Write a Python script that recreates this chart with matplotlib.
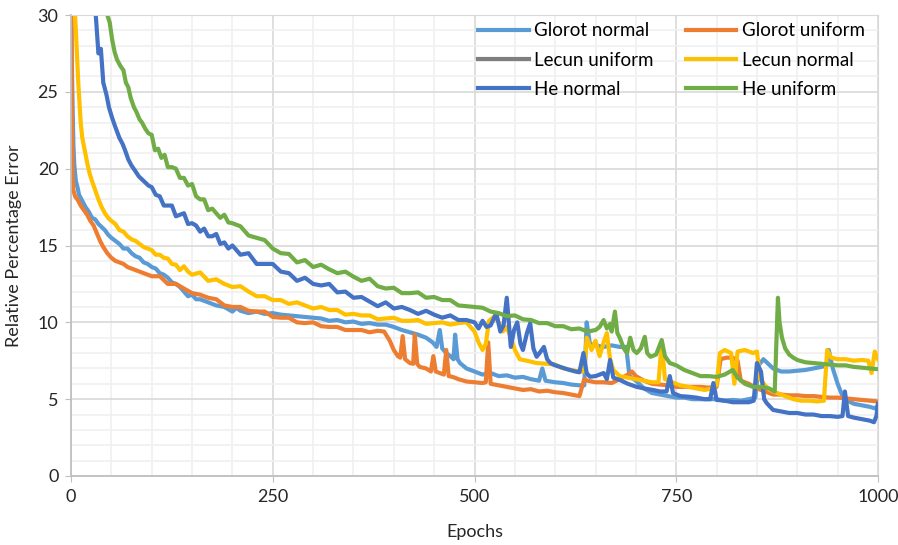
import matplotlib
matplotlib.use("Agg")
import matplotlib.pyplot as plt
from matplotlib.ticker import MultipleLocator

plt.rcParams['font.family'] = ['Lato', 'DejaVu Sans']

# Glorot normal
gn_epochs = [0, 1, 2, 3, 4, 6, 8, 10, 14, 18, 22, 26, 30, 34, 38, 42, 46, 50, 55, 60,
             65, 70, 75, 80, 85, 90, 95, 100, 105, 110, 115, 120, 125, 130, 135, 140, 145, 150, 155, 160,
             170, 180, 190, 200, 205, 210, 220, 230, 240, 250, 260, 270, 280, 290, 300, 310, 320, 330, 340, 350,
             360, 370, 380, 390, 400, 410, 420, 430, 440, 448, 453, 457, 460, 465, 470, 474, 476, 479, 482, 490,
             500, 510, 520, 530, 540, 550, 560, 570, 580, 584, 588, 600, 610, 620, 630, 636, 639, 643, 650, 660,
             670, 680, 688, 692, 700, 710, 720, 730, 740, 750, 760, 770, 780, 790, 800, 810, 820, 830, 840, 848,
             852, 858, 864, 870, 880, 890, 900, 910, 920, 930, 936, 939, 944, 950, 956, 962, 970, 980, 990, 996, 1000]
gn_values = [34, 27, 24, 21.5, 20.3, 19.2, 18.8, 18.3, 17.9, 17.5, 17.2, 16.8, 16.7, 16.4, 16.2, 16.0, 15.7, 15.5, 15.3, 15.1,
             14.8, 14.8, 14.5, 14.3, 14.2, 13.9, 13.8, 13.6, 13.5, 13.2, 13.1, 12.9, 12.6, 12.5, 12.3, 12.0, 11.7, 11.8, 11.5, 11.5,
             11.3, 11.1, 11.0, 10.7, 10.95, 10.75, 10.6, 10.7, 10.55, 10.6, 10.5, 10.45, 10.4, 10.35, 10.3, 10.25, 10.1, 10.15, 10.0, 10.05,
             9.9, 9.95, 9.85, 9.85, 9.7, 9.5, 9.35, 9.2, 9.0, 8.7, 8.4, 9.5, 8.3, 8.0, 7.8, 7.6, 9.2, 7.6, 7.35, 7.0,
             6.8, 6.6, 6.7, 6.5, 6.55, 6.4, 6.45, 6.3, 6.2, 7.0, 6.2, 6.1, 6.05, 5.95, 5.9, 5.9, 10.0, 8.6, 8.5, 8.4,
             8.5, 8.4, 8.4, 6.5, 6.2, 5.7, 5.4, 5.3, 5.2, 5.1, 5.1, 5.0, 5.0, 5.0, 5.0, 4.9, 4.95, 4.9, 5.0, 5.1,
             7.2, 7.6, 7.3, 7.0, 6.8, 6.8, 6.85, 6.9, 7.0, 7.1, 7.2, 8.2, 7.0, 6.0, 5.2, 4.9, 4.7, 4.6, 4.5, 4.4, 4.6]

# Glorot uniform
gu_epochs = [0, 1, 2, 3, 5, 8, 12, 16, 20, 24, 28, 32, 36, 40, 45, 50, 55, 60, 65, 70,
             75, 80, 85, 90, 95, 100, 110, 120, 130, 140, 150, 160, 170, 180, 190, 200, 210, 220, 230, 240,
             250, 260, 270, 280, 290, 300, 310, 320, 330, 340, 350, 360, 370, 380, 388, 395, 400, 405, 408, 411,
             414, 420, 424, 426, 429, 432, 440, 446, 449, 452, 457, 462, 465, 468, 473, 480, 490, 500, 510, 514,
             517, 520, 530, 540, 550, 560, 570, 580, 590, 600, 610, 620, 630, 636, 640, 650, 660, 670, 680, 690,
             695, 700, 710, 720, 730, 740, 750, 760, 770, 780, 790, 800, 805, 812, 820, 826, 830, 840, 850, 860,
             870, 880, 890, 900, 910, 920, 930, 940, 950, 960, 970, 980, 990, 1000]
gu_values = [34, 24, 19.5, 18.6, 18.2, 18.0, 17.6, 17.3, 17.0, 16.6, 16.3, 15.8, 15.3, 14.9, 14.5, 14.2, 14.0, 13.9, 13.8, 13.6,
             13.5, 13.4, 13.3, 13.2, 13.1, 13.0, 13.0, 12.5, 12.5, 12.2, 11.9, 11.8, 11.6, 11.5, 11.1, 11.0, 11.0, 10.75, 10.7, 10.7,
             10.35, 10.3, 10.3, 10.0, 9.95, 10.0, 9.75, 9.7, 9.7, 9.5, 9.5, 9.5, 9.35, 9.45, 9.4, 8.8, 8.2, 7.8, 7.7, 9.1,
             7.6, 7.35, 7.3, 9.2, 7.3, 7.1, 7.0, 6.8, 7.8, 6.8, 6.7, 6.6, 8.2, 6.5, 6.45, 6.3, 6.15, 6.1, 6.05, 6.1,
             8.7, 6.0, 5.9, 5.8, 5.7, 5.6, 5.65, 5.5, 5.55, 5.45, 5.4, 5.3, 5.2, 6.3, 6.2, 6.1, 6.1, 6.05, 6.3, 6.6,
             6.8, 6.5, 6.2, 6.0, 5.95, 5.9, 5.8, 5.8, 5.8, 5.8, 5.75, 5.8, 7.6, 7.7, 7.7, 7.5, 6.2, 6.0, 5.7, 5.5,
             5.3, 5.3, 5.25, 5.25, 5.2, 5.2, 5.15, 5.1, 5.1, 5.05, 5.0, 4.95, 4.9, 4.85]

# Lecun uniform (only in the legend, no visible line)
lu_epochs = []
lu_values = []

# Lecun normal
ln_epochs = [0, 4, 6, 9, 12, 14, 17, 20, 23, 26, 30, 34, 38, 42, 46, 50, 55, 60, 65, 70,
             75, 80, 85, 90, 95, 100, 105, 110, 115, 120, 125, 130, 135, 140, 145, 150, 160, 170, 180, 190,
             200, 210, 220, 230, 240, 250, 260, 270, 280, 290, 300, 310, 320, 330, 340, 350, 360, 370, 380, 390,
             400, 410, 420, 430, 440, 450, 460, 470, 480, 490, 495, 500, 505, 510, 514, 518, 525, 530, 535, 540,
             545, 550, 556, 565, 577, 590, 600, 610, 620, 630, 636, 639, 645, 650, 655, 660, 664, 668, 672, 680,
             690, 700, 710, 720, 728, 732, 736, 745, 755, 765, 775, 785, 795, 800, 804, 810, 818, 822, 826, 835,
             845, 850, 854, 860, 866, 875, 885, 895, 905, 915, 925, 933, 937, 942, 950, 960, 970, 980, 988, 992,
             996, 1000]
ln_values = [34, 31, 29, 25.6, 23.0, 22.0, 21.2, 20.4, 19.7, 19.2, 18.6, 18.0, 17.5, 17.1, 16.8, 16.6, 16.4, 16.0, 15.9, 15.6,
             15.4, 15.3, 15.1, 14.9, 14.8, 14.7, 14.4, 14.4, 14.2, 14.15, 13.8, 13.75, 13.4, 13.65, 13.3, 13.1, 13.25, 12.7, 12.8, 12.5,
             12.3, 12.35, 12.0, 11.7, 11.7, 11.45, 11.45, 11.2, 11.3, 11.1, 10.9, 11.0, 10.8, 10.8, 10.5, 10.55, 10.45, 10.45, 10.2, 10.25,
             10.3, 10.1, 10.1, 10.15, 9.9, 9.95, 10.0, 9.85, 9.95, 10.0, 9.7, 9.4, 8.7, 8.2, 8.6, 10.1, 10.4, 10.0, 9.4, 9.7,
             9.0, 8.2, 7.6, 7.5, 7.35, 7.3, 7.25, 7.0, 6.9, 6.8, 6.8, 9.0, 8.2, 8.8, 7.8, 8.7, 9.3, 7.6, 6.9, 6.5,
             6.4, 6.3, 6.2, 6.1, 6.1, 8.7, 6.3, 6.1, 5.9, 5.8, 5.7, 5.6, 5.7, 5.9, 8.0, 8.2, 8.0, 6.0, 8.1, 8.2,
             8.0, 8.1, 6.3, 5.9, 5.6, 5.4, 5.2, 5.0, 4.9, 4.9, 4.85, 4.9, 8.2, 7.7, 7.6, 7.6, 7.5, 7.55, 7.5, 6.7,
             8.1, 7.6]

# He normal
hn_epochs = [28, 30, 32, 34, 37, 40, 44, 47, 51, 55, 60, 64, 67, 71, 75, 79, 84, 88, 92, 96,
             100, 105, 110, 115, 120, 125, 130, 135, 140, 145, 150, 155, 160, 165, 170, 175, 180, 185, 190, 195,
             200, 210, 220, 230, 240, 250, 260, 270, 280, 290, 300, 310, 320, 330, 340, 350, 360, 370, 380, 390,
             400, 410, 420, 430, 440, 450, 460, 470, 480, 490, 500, 505, 510, 515, 520, 527, 532, 536, 540, 545,
             549, 553, 557, 560, 565, 569, 573, 577, 582, 586, 590, 594, 600, 606, 612, 618, 625, 630, 635, 639,
             643, 650, 660, 664, 668, 672, 680, 690, 701, 710, 721, 730, 738, 742, 746, 755, 765, 775, 785, 792,
             796, 800, 810, 820, 830, 840, 846, 850, 855, 859, 862, 870, 880, 890, 900, 910, 920, 930, 940, 950,
             956, 959, 963, 970, 980, 990, 995, 998, 1000]
hn_values = [32, 30.5, 29, 27.5, 27.8, 25.6, 24.8, 24.0, 23.3, 22.7, 22.0, 21.6, 21.2, 20.6, 20.2, 19.9, 19.5, 19.3, 19.1, 18.9,
             18.8, 18.3, 18.2, 17.6, 17.6, 17.6, 16.9, 17.0, 17.1, 16.4, 16.45, 16.3, 15.9, 16.1, 15.6, 15.6, 15.75, 15.1, 15.2, 14.8,
             15.0, 14.4, 14.5, 13.8, 13.8, 13.8, 13.3, 13.2, 12.7, 12.9, 12.5, 12.4, 12.5, 11.95, 12.0, 11.6, 11.65, 11.35, 11.05, 11.3,
             10.9, 11.0, 10.8, 10.55, 10.75, 10.5, 10.3, 10.45, 10.15, 10.15, 10.0, 9.6, 10.1, 9.7, 9.8, 10.6, 9.4, 9.8, 11.6, 8.4,
             9.5, 10.0, 8.6, 8.2, 9.3, 9.95, 8.3, 7.76, 8.1, 8.4, 7.6, 7.35, 7.2, 7.1, 7.0, 6.9, 6.8, 6.75, 8.0, 6.7,
             6.46, 6.5, 6.7, 6.3, 7.55, 6.4, 6.25, 6.0, 5.8, 5.7, 5.6, 5.5, 5.5, 6.5, 5.4, 5.2, 5.16, 5.1, 5.0, 5.0,
             6.05, 4.95, 4.9, 4.8, 4.8, 4.8, 4.9, 7.35, 6.8, 5.0, 4.75, 4.3, 4.2, 4.1, 4.1, 4.0, 4.0, 3.9, 3.9, 3.85,
             3.9, 5.5, 3.9, 3.8, 3.7, 3.6, 3.5, 3.9, 4.7]

# He uniform
hu_epochs = [42, 45, 48, 51, 54, 57, 61, 65, 68, 71, 74, 78, 81, 85, 88, 92, 96, 100, 104, 108,
             112, 116, 120, 125, 130, 135, 140, 145, 150, 155, 160, 165, 170, 175, 180, 185, 190, 195, 200, 210,
             220, 230, 240, 250, 260, 270, 280, 290, 300, 310, 320, 330, 340, 350, 360, 370, 380, 390, 400, 410,
             420, 430, 440, 450, 460, 470, 480, 490, 500, 510, 520, 530, 540, 550, 560, 570, 580, 590, 600, 610,
             620, 630, 640, 650, 655, 660, 664, 668, 670, 674, 677, 680, 685, 689, 693, 697, 701, 706, 711, 714,
             718, 725, 732, 736, 742, 750, 760, 770, 780, 790, 800, 810, 820, 826, 835, 845, 855, 865, 872, 876,
             878, 881, 885, 890, 895, 900, 910, 920, 930, 940, 950, 960, 970, 980, 990, 1000]
hu_values = [31, 30, 29.5, 28.4, 27.6, 27.1, 26.7, 26.4, 25.6, 25.3, 24.6, 24.0, 23.7, 23.2, 23.0, 22.6, 22.3, 22.2, 21.2, 21.3,
             20.7, 20.9, 20.1, 20.1, 20.0, 19.4, 19.4, 18.9, 19.0, 18.2, 18.0, 18.0, 17.3, 17.4, 17.1, 16.8, 17.0, 16.5, 16.45, 16.25,
             15.65, 15.5, 15.35, 14.8, 14.5, 14.45, 13.9, 14.05, 13.6, 13.75, 13.45, 13.2, 13.3, 12.97, 12.7, 12.84, 12.35, 12.2, 12.25, 11.9,
             11.9, 11.95, 11.6, 11.65, 11.45, 11.45, 11.1, 11.05, 11.0, 10.95, 10.7, 10.6, 10.4, 10.45, 10.2, 10.15, 9.95, 9.95, 9.75, 9.75,
             9.55, 9.6, 9.4, 9.5, 9.7, 10.15, 9.6, 9.9, 9.4, 10.7, 9.3, 9.0, 8.3, 8.0, 9.0, 8.2, 8.0, 8.3, 9.06, 8.0,
             7.76, 7.9, 8.85, 7.8, 7.35, 7.2, 6.9, 6.7, 6.5, 6.5, 6.45, 6.6, 6.9, 6.4, 6.0, 5.8, 5.8, 5.7, 5.5, 11.6,
             10.0, 9.0, 8.3, 7.9, 7.7, 7.55, 7.4, 7.35, 7.3, 7.25, 7.2, 7.2, 7.1, 7.05, 7.0, 6.95]

series = [
    ("Glorot normal", gn_epochs, gn_values, "#5B9BD5"),
    ("Glorot uniform", gu_epochs, gu_values, "#ED7D31"),
    ("Lecun uniform", lu_epochs, lu_values, "#7F7F7F"),
    ("Lecun normal", ln_epochs, ln_values, "#FFC000"),
    ("He normal", hn_epochs, hn_values, "#4472C4"),
    ("He uniform", hu_epochs, hu_values, "#70AD47"),
]

fig = plt.figure(figsize=(8.98, 5.45), dpi=100)
ax = fig.add_axes([71 / 898, 1 - 476 / 545, 807 / 898, 461 / 545])

lines = {}
for name, ep, val, col in series:
    l, = ax.plot(ep, val, color=col, lw=3.0, label=name, solid_joinstyle='round')
    lines[name] = l

ax.set_xlim(0, 1000)
ax.set_ylim(0, 30)
ax.xaxis.set_major_locator(MultipleLocator(250))
ax.xaxis.set_minor_locator(MultipleLocator(50))
ax.yaxis.set_major_locator(MultipleLocator(5))
ax.yaxis.set_minor_locator(MultipleLocator(1))
ax.grid(which='major', color='#D9D9D9', lw=1.2)
ax.grid(which='minor', color='#F0F0F0', lw=1.2)
ax.set_axisbelow(True)
for s in ['top', 'right']:
    ax.spines[s].set_color('#D9D9D9')
for s in ['left', 'bottom']:
    ax.spines[s].set_color('#BFBFBF')
    ax.spines[s].set_linewidth(1.3)
ax.tick_params(which='major', length=4, color='#BFBFBF', labelsize=13, labelcolor='#262626', pad=5)
ax.tick_params(which='minor', length=0)

ax.set_xlabel("Epochs", fontsize=13, color='#262626', labelpad=14)
ax.set_ylabel("Relative Percentage Error", fontsize=13, color='#262626', labelpad=11)

order = ["Glorot normal", "Lecun uniform", "He normal", "Glorot uniform", "Lecun normal", "He uniform"]
ax.legend([lines[n] for n in order], order, ncol=2, frameon=False, fontsize=13.5,
          loc='upper right', bbox_to_anchor=(1.0, 1.013), handlelength=2.7,
          handletextpad=0.3, columnspacing=1.7, labelspacing=0.66, borderaxespad=0.3)

fig.savefig("out.png", dpi=100)
